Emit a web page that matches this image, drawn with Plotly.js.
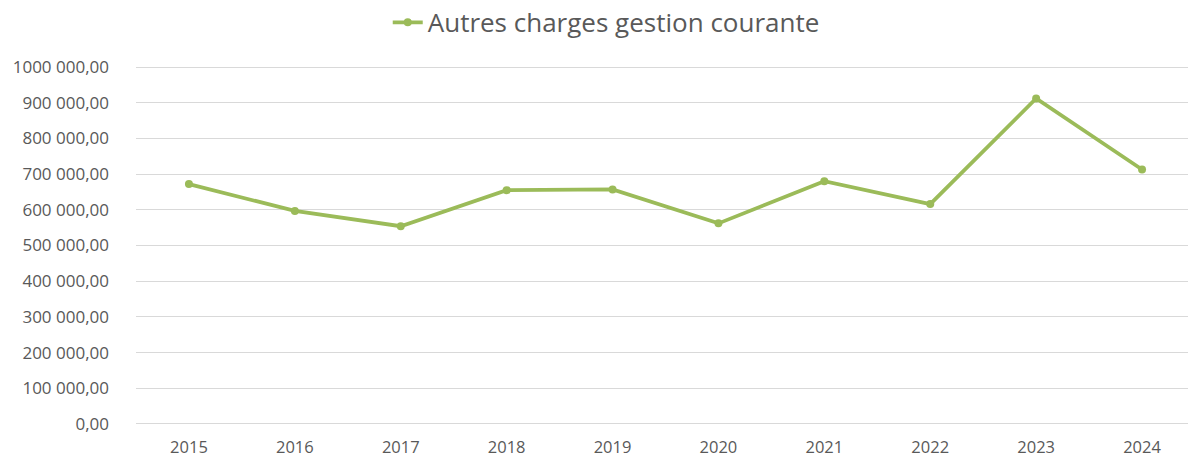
<!DOCTYPE html>
<html>
<head>
<meta charset="utf-8">
<script src="https://cdn.plot.ly/plotly-3.0.1.min.js"></script>
<style>html,body{margin:0;padding:0;background:#fff;}#chart{width:1188px;height:457px;}</style>
</head>
<body>
<div id="chart"></div>
<script>
const years = ["2015","2016","2017","2018","2019","2020","2021","2022","2023","2024"];
const values = [672000, 597000, 554000, 655000, 657000, 562000, 680000, 616000, 912000, 713000];
const seriesName = "Autres charges gestion courante";
const tickVals = [0,100000,200000,300000,400000,500000,600000,700000,800000,900000,1000000];
const tickLabels = ["0,00","100 000,00","200 000,00","300 000,00","400 000,00","500 000,00","600 000,00","700 000,00","800 000,00","900 000,00","1000 000,00"];

const green = "#9BBB59";
const txt = "#595959";
const fontFam = "'Open Sans', 'Noto Sans', sans-serif";

Plotly.newPlot("chart", [{
  type: "scatter",
  mode: "lines+markers",
  x: years.map((_, i) => i),
  y: values,
  name: seriesName,
  line: {color: green, width: 3.75},
  marker: {color: green, size: 8}
}], {
  width: 1188, height: 457,
  margin: {l: 136, r: 0, t: 66, b: 32},
  paper_bgcolor: "#fff", plot_bgcolor: "#fff",
  font: {family: fontFam, color: txt},
  showlegend: true,
  legend: {
    orientation: "h", x: 0.447, xanchor: "center",
    yref: "container", y: 0.951, yanchor: "middle",
    font: {size: 26, color: txt, family: fontFam}, itemwidth: 30
  },
  xaxis: {
    range: [-0.5, 9.434],
    tickvals: years.map((_, i) => i),
    ticktext: years,
    showgrid: false, zeroline: false, showline: false, ticks: "",
    tickfont: {size: 16.5, color: txt},
    ticklabelstandoff: 10,
    fixedrange: true
  },
  yaxis: {
    range: [-3000, 1003000],
    tickvals: tickVals,
    ticktext: tickLabels,
    showgrid: true, gridcolor: "#d9d9d9", gridwidth: 1,
    zeroline: false, showline: false, ticks: "",
    tickfont: {size: 17, color: txt},
    ticklabelstandoff: 26,
    fixedrange: true
  }
}, {displayModeBar: false, staticPlot: true});
</script>
</body>
</html>
